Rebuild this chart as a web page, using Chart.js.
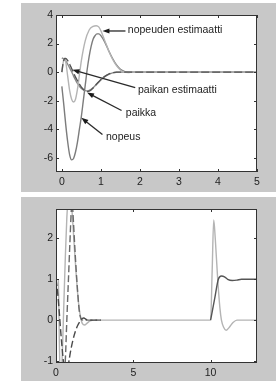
<!DOCTYPE html>
<html>
<head>
<meta charset="utf-8">
<script src="https://cdn.jsdelivr.net/npm/chart.js@4"></script>
<style>
body { margin:0; background:#fff; width:276px; height:381px; overflow:hidden; position:relative; }
.fig { position:absolute; left:21px; width:255px; background:#c8c8c8; }
#f1 { top:3px; height:189px; }
#f2 { top:197px; height:184px; }
canvas { display:block; }
</style>
</head>
<body>
<div class="fig" id="f1"><canvas id="chart1" width="255" height="189"></canvas></div>
<div class="fig" id="f2"><canvas id="chart2" width="255" height="184"></canvas></div>
<script>
// --- ylempi kuva: paikka ja nopeus + estimaatit ---
const xTicks1 = [0, 1, 2, 3, 4, 5];
const yTicks1 = [-6, -4, -2, 0, 2, 4];

const tNopeus = [0, 0.05, 0.1, 0.15, 0.2, 0.25, 0.3, 0.35, 0.4, 0.45, 0.5, 0.55, 0.6, 0.65, 0.7, 0.75, 0.8, 0.85, 0.9, 0.95, 1.0, 1.1, 1.2, 1.3, 1.4, 1.5, 1.6, 1.7, 5];
const nopeus  = [-1.0, -2.3, -3.7, -4.9, -5.8, -6.15, -6.05, -5.6, -4.9, -4.0, -3.1, -2.0, -0.9, 0.2, 1.1, 1.8, 2.3, 2.55, 2.68, 2.68, 2.55, 2.1, 1.5, 0.95, 0.5, 0.2, 0.05, 0.0, 0.0];

const tNopEst = [0, 0.03, 0.06, 0.1, 0.15, 0.2, 0.25, 0.3, 0.35, 0.4, 0.45, 0.5, 0.6, 0.7, 0.8, 0.88, 0.95, 1.0, 1.1, 1.2, 1.3, 1.4, 1.5, 1.6, 1.7, 1.8, 5];
const nopEst  = [0, 0.6, 0.95, 0.7, -0.3, -1.3, -1.9, -2.1, -1.9, -1.2, -0.2, 0.8, 2.2, 2.95, 3.2, 3.25, 3.15, 2.9, 2.2, 1.5, 0.9, 0.45, 0.15, 0.0, -0.03, 0.0, 0.0];

const tPaikka = [0, 0.05, 0.1, 0.15, 0.2, 0.25, 0.3, 0.35, 0.4, 0.45, 0.5, 0.55, 0.6, 0.65, 0.7, 0.8, 0.9, 1.0, 1.1, 1.2, 1.3, 1.4, 1.5, 5];
const paikka  = [1.0, 0.92, 0.78, 0.55, 0.3, 0.02, -0.28, -0.55, -0.8, -1.0, -1.15, -1.25, -1.3, -1.32, -1.28, -1.1, -0.82, -0.55, -0.32, -0.16, -0.06, -0.01, 0, 0];

const tPaiEst = [0, 0.03, 0.07, 0.1, 0.15, 0.2, 0.25, 0.3, 0.35, 0.4, 0.45, 0.5, 0.55, 0.6, 0.65, 0.7, 0.75, 0.8, 0.9, 1.0, 1.1, 1.2, 1.3, 1.4, 5];
const paiEst  = [0, 0.6, 0.95, 0.95, 0.8, 0.55, 0.25, -0.05, -0.35, -0.6, -0.85, -1.05, -1.2, -1.3, -1.35, -1.33, -1.25, -1.12, -0.82, -0.52, -0.3, -0.14, -0.05, 0, 0];

const notes1 = [
	{ text: 'nopeuden estimaatti', tx: 1.69, ty: 2.92, from: [1.63, 2.88], to: [1.04, 2.88] },
	{ text: 'paikan estimaatti', tx: 1.95, ty: -1.25, from: [1.88, -1.08], to: [0.27, 0.16] },
	{ text: 'paikka', tx: 1.64, ty: -2.85, from: [1.53, -2.69], to: [0.645, -1.43] },
	{ text: 'nopeus', tx: 1.13, ty: -4.57, from: [1.04, -4.38], to: [0.5, -3.2] },
];

// --- alempi kuva ---
const xTicks2 = [0, 5, 10];
const yTicks2 = [-1, 0, 1, 2];

const tPos2a = [0, 0.1, 0.2, 0.3, 0.4, 0.5, 0.6, 0.7, 0.82, 0.95, 1.1, 1.25, 1.4, 1.55, 1.7, 1.8, 1.95, 2.1, 2.9];
const pos2a  = [1.0, 0.7, 0.25, -0.25, -0.7, -1.1, -1.4, -1.4, -1.05, -0.75, -0.48, -0.28, -0.13, -0.03, 0.04, 0.05, 0.02, 0, 0];

const tPos2b = [10.0, 10.25, 10.5, 10.7, 10.9, 11.1, 11.4, 11.7, 12.0, 13];
const pos2b  = [0, 0.5, 1.0, 1.08, 1.06, 1.0, 0.97, 0.98, 1.0, 1.0];

const tVel2 = [0.15, 0.18, 0.21, 0.25, 0.32, 0.39, 0.5, 0.6, 0.7, 0.8, 0.9, 1.0, 1.1, 1.2, 1.3, 1.4, 1.5, 1.6, 1.7, 1.85, 2.0, 2.2, 2.5, 10.0, 10.1, 10.2, 10.3, 10.45, 10.6, 10.7, 10.85, 11.0, 11.2, 11.45, 11.7, 13];
const vel2  = [1.0, 0.5, -0.4, -1.2, -1.6, -1.05, 0.3, 1.5, 2.5, 3.0, 3.1, 2.85, 2.3, 1.7, 1.15, 0.65, 0.28, 0.05, -0.08, -0.12, -0.08, -0.02, 0, 0, 1.2, 2.45, 2.0, 1.05, 0.3, 0.0, -0.18, -0.25, -0.18, -0.06, 0.0, 0];

const tVelEst2 = [0.3, 0.45, 0.6, 0.7, 0.8, 0.9, 1.0, 1.05, 1.1, 1.2, 1.3, 1.4, 1.5, 1.6, 1.7, 1.8, 2.0, 2.9];
const velEst2  = [-2.0, -1.6, -1.0, 0.0, 0.95, 1.9, 2.75, 2.85, 2.6, 1.9, 1.25, 0.7, 0.25, 0.05, 0.0, 0.03, 0.0, 0];

const pts = (t, y) => t.map((x, i) => ({ x: x, y: y[i] }));

const kehys = {
	id: 'kehys',
	beforeDraw(chart) {
		const a = chart.chartArea, c = chart.ctx;
		c.save();
		c.fillStyle = '#fff';
		c.fillRect(a.left, a.top, a.right - a.left, a.bottom - a.top);
		c.restore();
	},
	afterDraw(chart) {
		const a = chart.chartArea, c = chart.ctx;
		const sx = chart.scales.x, sy = chart.scales.y;
		c.save();
		c.strokeStyle = '#333';
		c.lineWidth = 1;
		c.strokeRect(a.left + 0.5, a.top + 0.5, a.right - a.left - 1, a.bottom - a.top - 1);
		c.beginPath();
		sx.ticks.forEach(t => {
			const x = Math.round(sx.getPixelForValue(t.value)) + 0.5;
			c.moveTo(x, a.bottom); c.lineTo(x, a.bottom - 3);
			c.moveTo(x, a.top); c.lineTo(x, a.top + 3);
		});
		sy.ticks.forEach(t => {
			const y = Math.round(sy.getPixelForValue(t.value)) + 0.5;
			c.moveTo(a.left, y); c.lineTo(a.left + 3, y);
			c.moveTo(a.right, y); c.lineTo(a.right - 3, y);
		});
		c.stroke();

		const notes = chart.options.plugins.kehys.notes || [];
		c.font = '10.5px "Liberation Sans", Arial, sans-serif';
		c.textAlign = 'left';
		c.textBaseline = 'middle';
		notes.forEach(n => {
			const x0 = sx.getPixelForValue(n.from[0]), y0 = sy.getPixelForValue(n.from[1]);
			const x1 = sx.getPixelForValue(n.to[0]), y1 = sy.getPixelForValue(n.to[1]);
			const ang = Math.atan2(y1 - y0, x1 - x0);
			c.strokeStyle = '#2a2a2a';
			c.lineWidth = 1.3;
			c.beginPath();
			c.moveTo(x0, y0);
			c.lineTo(x1 - 5 * Math.cos(ang), y1 - 5 * Math.sin(ang));
			c.stroke();
			c.fillStyle = '#1a1a1a';
			c.beginPath();
			c.moveTo(x1, y1);
			c.lineTo(x1 - 7 * Math.cos(ang) + 2.6 * Math.sin(ang), y1 - 7 * Math.sin(ang) - 2.6 * Math.cos(ang));
			c.lineTo(x1 - 7 * Math.cos(ang) - 2.6 * Math.sin(ang), y1 - 7 * Math.sin(ang) + 2.6 * Math.cos(ang));
			c.closePath();
			c.fill();
			c.fillStyle = '#222';
			c.fillText(n.text, sx.getPixelForValue(n.tx), sy.getPixelForValue(n.ty));
		});
		c.restore();
	}
};

const tickFont = { family: '"Liberation Sans", Arial, sans-serif', size: 10.5 };

function viiva(data, color, dash) {
	return {
		data: data,
		borderColor: color,
		borderWidth: 1.4,
		borderDash: dash || [],
		pointRadius: 0,
		cubicInterpolationMode: 'monotone',
		fill: false,
		clip: 0,
	};
}

function asetukset(xmin, xmax, ymin, ymax, xt, yt, xh, notes) {
	return {
		responsive: false,
		animation: false,
		layout: { padding: { left: 0, top: 12, right: 19, bottom: 0 } },
		plugins: {
			legend: { display: false },
			tooltip: { enabled: false },
			kehys: { notes: notes },
		},
		scales: {
			x: {
				type: 'linear', min: xmin, max: xmax,
				grid: { display: false, drawTicks: false },
				border: { display: false },
				ticks: { font: tickFont, color: '#222', padding: 4, maxRotation: 0 },
				afterBuildTicks: s => { s.ticks = xt.map(v => ({ value: v })); },
				afterFit: s => { s.height = xh; },
			},
			y: {
				min: ymin, max: ymax,
				grid: { display: false, drawTicks: false },
				border: { display: false },
				ticks: { font: tickFont, color: '#222', padding: 3 },
				afterBuildTicks: s => { s.ticks = yt.map(v => ({ value: v })); },
				afterFit: s => { s.width = 35; },
			}
		}
	};
}

new Chart(document.getElementById('chart1'), {
	type: 'line',
	data: {
		datasets: [
			viiva(pts(tPaiEst, paiEst), '#555', [8, 3]),
			viiva(pts(tNopEst, nopEst), '#b4b4b4'),
			viiva(pts(tPaikka, paikka), '#8a8a8a'),
			viiva(pts(tNopeus, nopeus), '#7c7c7c'),
		]
	},
	options: asetukset(-0.15, 5, -7, 4, xTicks1, yTicks1, 20, notes1),
	plugins: [kehys]
});

new Chart(document.getElementById('chart2'), {
	type: 'line',
	data: {
		datasets: [
			viiva(pts(tPos2a, pos2a), '#4a4a4a', [7, 3]),
			viiva(pts(tVelEst2, velEst2), '#6a6a6a', [7, 3]),
			viiva(pts(tPos2b, pos2b), '#555'),
			viiva(pts(tVel2, vel2), '#b4b4b4'),
		]
	},
	options: asetukset(0, 13, -1.05, 2.72, xTicks2, yTicks2, 18, []),
	plugins: [kehys]
});
</script>
</body>
</html>
